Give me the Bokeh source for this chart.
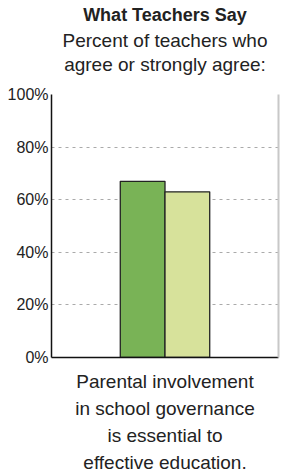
from bokeh.plotting import figure
from bokeh.layouts import row
from bokeh.models import (FactorRange, ColumnDataSource, Title, PrintfTickFormatter,
                          FixedTicker, LinearAxis, Spacer)
from bokeh.transform import dodge
from bokeh.embed import file_html
from bokeh.resources import INLINE

# ---- data ----
categories = ["Parental involvement\nin school governance\nis essential to\neffective education."]
series_names = ["Group 1", "Group 2"]
values_1 = [67]
values_2 = [63]
y_ticks = [0, 20, 40, 60, 80, 100]
colors = ["#79b356", "#d7e29b"]

FONT = "Liberation Sans"

source = ColumnDataSource(dict(cat=categories, v1=values_1, v2=values_2))

p = figure(x_range=FactorRange(factors=categories), y_range=(0, 100),
           frame_width=227, frame_height=263,
           min_border_left=0, min_border_right=4, min_border_top=0, min_border_bottom=0,
           output_backend="svg", toolbar_location=None, title=None)

bar_w = 0.197
p.vbar(x=dodge("cat", -bar_w / 2, range=p.x_range), top="v1", width=bar_w, source=source,
       fill_color=colors[0], line_color="#222222", line_width=1.3)
p.vbar(x=dodge("cat", bar_w / 2, range=p.x_range), top="v2", width=bar_w, source=source,
       fill_color=colors[1], line_color="#222222", line_width=1.3)

# titles (added inner -> outer); first one is an invisible spacer
p.add_layout(Title(text=" ", text_font=FONT, text_font_size="1px", standoff=17), "above")
p.add_layout(Title(text="agree or strongly agree:", text_font=FONT, text_font_size="19px",
                   text_font_style="normal", align="center",
                   standoff=0, offset=-5, text_color="#222222"), "above")
p.add_layout(Title(text="Percent of teachers who", text_font=FONT, text_font_size="19px",
                   text_font_style="normal", align="center", standoff=2, offset=-5,
                   text_color="#222222"), "above")
p.add_layout(Title(text="What Teachers Say", text_font=FONT, text_font_size="18px",
                   text_font_style="bold", align="center", standoff=4, offset=-12,
                   text_color="#222222"), "above")

# y axis
p.yaxis.ticker = FixedTicker(ticks=y_ticks)
p.yaxis.formatter = PrintfTickFormatter(format="%d%%")
p.yaxis.major_label_text_font = FONT
p.yaxis.major_label_text_font_size = "16px"
p.yaxis.major_label_text_color = "#222222"
p.yaxis.major_tick_line_color = None
p.yaxis.major_tick_out = 0
p.yaxis.major_tick_in = 0
p.yaxis.minor_tick_line_color = None
p.yaxis.minor_tick_out = 0
p.yaxis.axis_line_color = "#111111"
p.yaxis.axis_line_width = 1.5
p.yaxis.major_label_standoff = 3

# x axis
p.xaxis.major_label_text_font = FONT
p.xaxis.major_label_text_font_size = "19px"
p.xaxis.major_label_text_color = "#222222"
p.xaxis.major_label_text_line_height = 1.3
p.xaxis.major_tick_line_color = None
p.xaxis.major_tick_out = 0
p.xaxis.axis_line_color = "#111111"
p.xaxis.axis_line_width = 1.5
p.xaxis.major_label_standoff = 13

# right border line
right = LinearAxis(ticker=FixedTicker(ticks=[]), axis_line_color="#c8c8c8", axis_line_width=2,
                   major_tick_line_color=None, minor_tick_line_color=None,
                   major_label_text_font_size="0px")
p.add_layout(right, "right")

p.xgrid.grid_line_color = None
p.ygrid.grid_line_color = "#aaaaaa"
p.ygrid.grid_line_dash = "3 4"
p.ygrid.grid_line_width = 1
p.outline_line_color = None
p.background_fill_color = "white"
p.border_fill_color = "white"

layout = row(Spacer(width=4), p, spacing=0)
open("out.html", "w").write(file_html(layout, INLINE))
